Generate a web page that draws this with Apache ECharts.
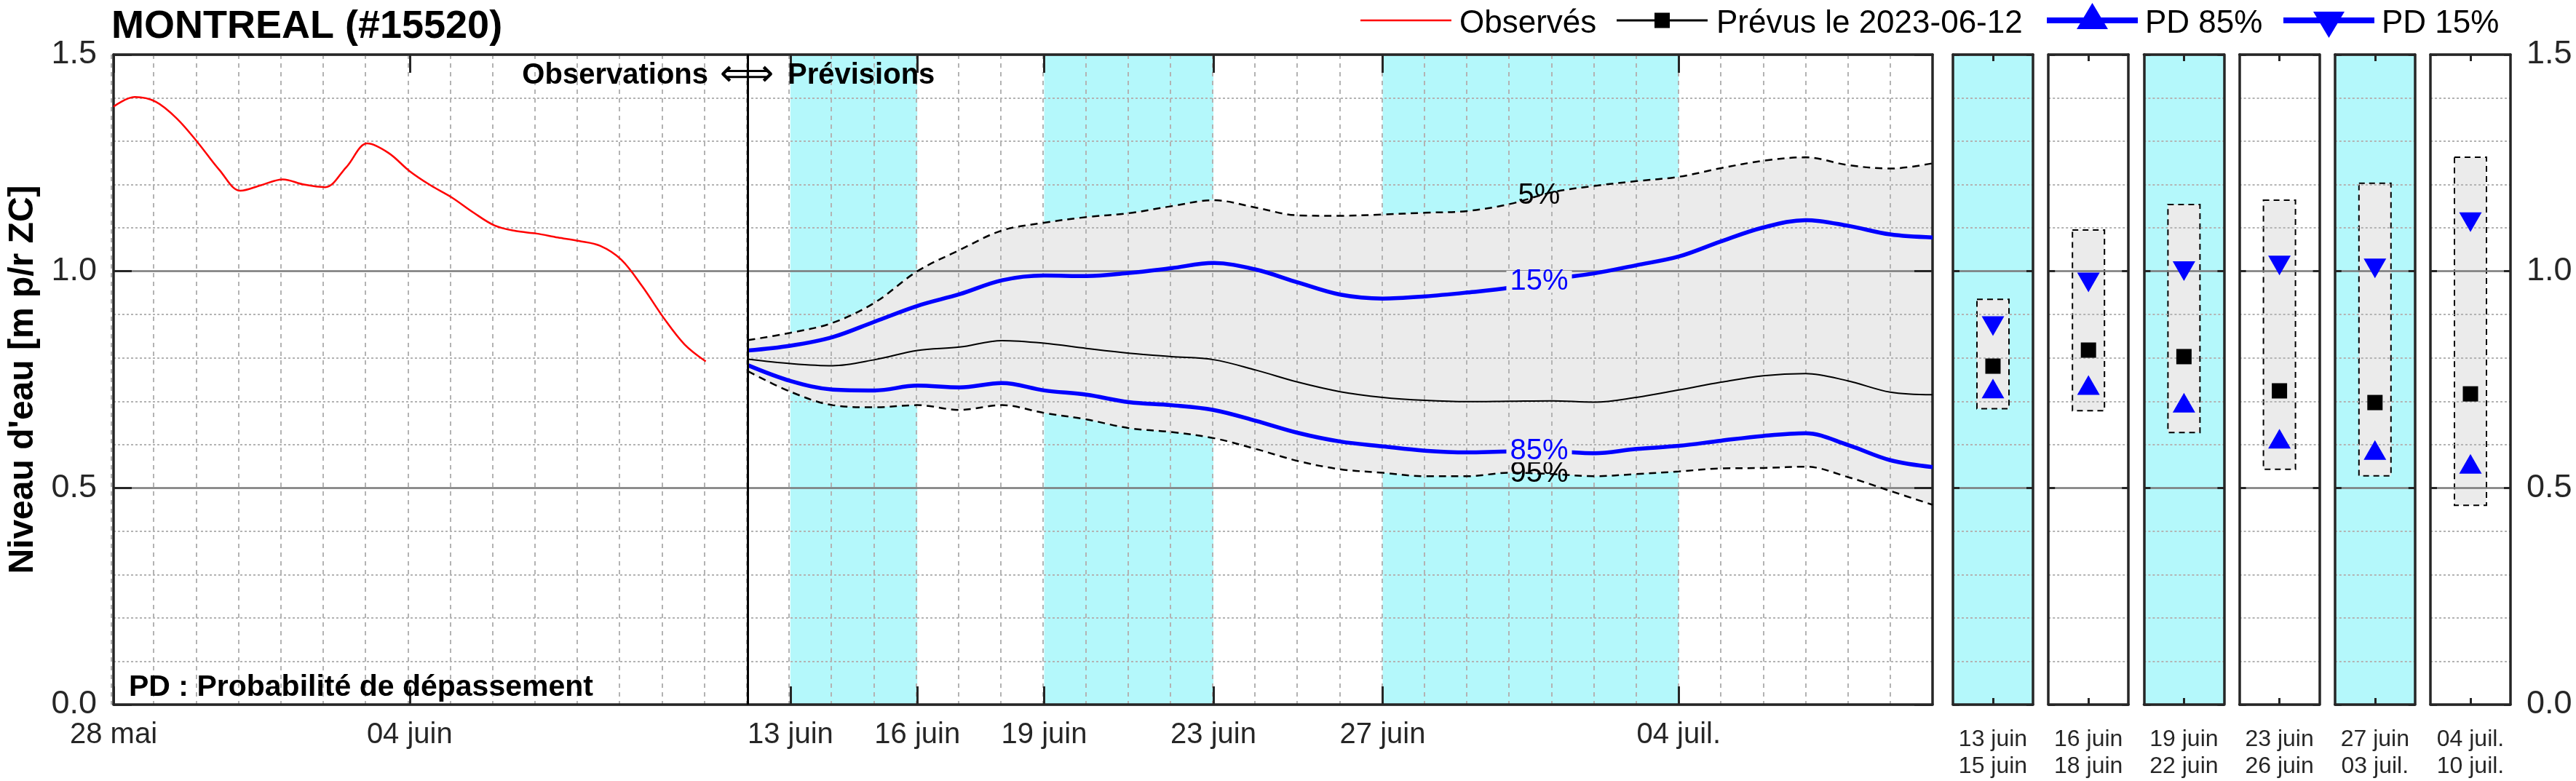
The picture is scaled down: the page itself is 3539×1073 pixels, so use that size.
<!DOCTYPE html>
<html>
<head>
<meta charset="utf-8">
<title>MONTREAL (#15520)</title>
<script src="https://cdn.jsdelivr.net/npm/echarts@6/dist/echarts.min.js"></script>
<style>
  html, body { margin: 0; padding: 0; background: #fff; }
  #chart { width: 3539px; height: 1073px; }
</style>
</head>
<body>
<div id="chart"></div>
<script>
// jours comptés depuis le 28 mai 2023
const tickDays = [0, 7, 16, 19, 22, 26, 30, 37];
const tickLabels = ['28 mai', '04 juin', '13 juin', '16 juin', '19 juin', '23 juin', '27 juin', '04 juil.'];
const cyanStart = [16, 22, 30];
const cyanEnd = [19, 26, 37];
const forecastStart = 15; // 12 juin
const lastDay = 43;

// niveaux observés
const obsDay = [0, 0.5, 1, 1.5, 2, 2.5, 3, 3.5, 4, 4.5, 5, 5.5, 6, 6.5, 7, 7.5, 8, 8.5, 9, 9.5, 10, 10.5, 11, 11.5, 12, 12.5, 13, 13.5, 14];
const obsLevel = [1.380, 1.402, 1.391, 1.352, 1.296, 1.234, 1.186, 1.199, 1.212, 1.200, 1.194, 1.240, 1.295, 1.273, 1.231, 1.198, 1.170, 1.136, 1.106, 1.093, 1.087, 1.078, 1.070, 1.059, 1.027, 0.965, 0.893, 0.831, 0.792];

// prévisions (probabilités de dépassement)
const fcDay = [15, 16, 17, 18, 19, 20, 21, 22, 23, 24, 25, 26, 27, 28, 29, 30, 31, 32, 33, 34, 35, 36, 37, 38, 39, 40, 41, 42, 43];
const fcP5 = [0.841, 0.858, 0.881, 0.928, 1.000, 1.049, 1.094, 1.112, 1.125, 1.134, 1.150, 1.164, 1.147, 1.129, 1.128, 1.131, 1.135, 1.139, 1.155, 1.182, 1.197, 1.208, 1.218, 1.238, 1.255, 1.263, 1.245, 1.237, 1.249];
const fcP15 = [0.817, 0.828, 0.848, 0.884, 0.920, 0.947, 0.979, 0.990, 0.989, 0.996, 1.007, 1.019, 1.004, 0.974, 0.946, 0.937, 0.942, 0.951, 0.962, 0.982, 0.995, 1.014, 1.034, 1.069, 1.101, 1.118, 1.105, 1.085, 1.078];
const fcMed = [0.797, 0.787, 0.782, 0.796, 0.817, 0.825, 0.840, 0.834, 0.822, 0.811, 0.803, 0.796, 0.772, 0.744, 0.722, 0.709, 0.702, 0.699, 0.700, 0.701, 0.698, 0.709, 0.726, 0.744, 0.759, 0.764, 0.747, 0.721, 0.715];
const fcP85 = [0.783, 0.747, 0.727, 0.725, 0.736, 0.732, 0.742, 0.725, 0.715, 0.698, 0.691, 0.680, 0.655, 0.627, 0.607, 0.596, 0.586, 0.582, 0.584, 0.584, 0.580, 0.590, 0.597, 0.609, 0.620, 0.626, 0.599, 0.564, 0.548];
const fcP95 = [0.769, 0.722, 0.691, 0.686, 0.691, 0.680, 0.691, 0.673, 0.658, 0.638, 0.629, 0.615, 0.590, 0.562, 0.543, 0.535, 0.527, 0.527, 0.535, 0.532, 0.527, 0.532, 0.538, 0.545, 0.546, 0.549, 0.525, 0.493, 0.461];

// résumés par période
const weekStart = ['13 juin', '16 juin', '19 juin', '23 juin', '27 juin', '04 juil.'];
const weekEnd = ['15 juin', '18 juin', '22 juin', '26 juin', '03 juil.', '10 juil.'];
const weekShaded = [true, false, true, false, true, false];
const weekP5 = [0.935, 1.095, 1.154, 1.164, 1.203, 1.263];
const weekP15 = [0.881, 0.982, 1.008, 1.021, 1.014, 1.121];
const weekMed = [0.781, 0.818, 0.803, 0.724, 0.697, 0.717];
const weekP85 = [0.722, 0.730, 0.689, 0.606, 0.580, 0.548];
const weekP95 = [0.683, 0.678, 0.628, 0.543, 0.528, 0.460];

const FONT = "'Liberation Sans', Arial, Helvetica, sans-serif";
const CYAN = '#b4f8fb';
const BAND = '#ebebeb';
const BLUE = '#0000ff';
const AXIS = '#262626';
const labelDay = 33.7;

const pairs = (xs, ys) => xs.map((x, k) => [x, ys[k]]);
function valAt(arr, d) {
  const k = Math.floor(d - fcDay[0]);
  const t = d - fcDay[k];
  return arr[k] + (arr[k + 1] - arr[k]) * t;
}
// axe par catégories (un jour = une catégorie) pour pouvoir empiler la bande grise
const dayCats = [];
for (let d = 0; d <= lastDay; d++) dayCats.push(String(d));
const onDays = arr => dayCats.map((c, d) => {
  const k = fcDay.indexOf(d);
  return k < 0 ? '-' : arr[k];
});

const border = { show: true, onZero: false, lineStyle: { color: AXIS, width: 3.5 } };
const majorGrid = { show: true, lineStyle: { color: '#7a7a7a', width: 2.5 } };
const minorGrid = { show: true, lineStyle: { color: '#b3b3b3', width: 2, type: [3, 3] } };

const chart = echarts.init(document.getElementById('chart'));

const grid = [
  { left: 153, top: 75, width: 2502, height: 893 },
  { left: 153, top: 75, width: 2502, height: 893 } // bande grise + lignes journalières
];
const xAxis = [
  {
    gridIndex: 0, type: 'value', min: 0, max: lastDay, position: 'bottom', z: 2,
    axisLine: border,
    axisTick: { inside: true, length: 25, customValues: tickDays, lineStyle: { color: AXIS, width: 3 } },
    axisLabel: {
      customValues: tickDays, formatter: v => tickLabels[tickDays.indexOf(v)],
      fontFamily: FONT, fontSize: 40, color: AXIS, margin: 22
    },
    splitLine: { show: false }
  },
  {
    gridIndex: 0, type: 'value', min: 0, max: lastDay, position: 'top', z: 2,
    axisLine: border,
    axisTick: { inside: true, length: 25, customValues: tickDays, lineStyle: { color: AXIS, width: 3 } },
    axisLabel: { show: false },
    splitLine: { show: false }
  },
  {
    gridIndex: 1, type: 'category', data: dayCats, boundaryGap: false, z: 2,
    axisLine: { show: false }, axisTick: { show: false }, axisLabel: { show: false },
    splitLine: { show: true, interval: 0, lineStyle: { color: '#b3b3b3', width: 2, type: [6, 6] } }
  }
];
const yAxis = [
  {
    gridIndex: 0, type: 'value', min: 0, max: 1.5, interval: 0.5, position: 'left', z: 2,
    name: "Niveau d'eau [m p/r ZC]", nameLocation: 'middle', nameGap: 100, nameRotate: 90,
    nameTextStyle: { fontFamily: FONT, fontSize: 48, fontWeight: 'bold', color: '#000' },
    axisLine: border,
    axisTick: { inside: true, length: 25, lineStyle: { color: AXIS, width: 3 } },
    axisLabel: { fontFamily: FONT, fontSize: 45, color: AXIS, margin: 23, formatter: v => v.toFixed(1) },
    splitLine: majorGrid,
    minorTick: { show: false, splitNumber: 5 },
    minorSplitLine: minorGrid
  },
  {
    gridIndex: 0, type: 'value', min: 0, max: 1.5, interval: 0.5, position: 'right', z: 2,
    axisLine: border,
    axisTick: { inside: true, length: 25, lineStyle: { color: AXIS, width: 3 } },
    axisLabel: { show: false },
    splitLine: { show: false }
  },
  { gridIndex: 1, type: 'value', min: 0, max: 1.5, show: false }
];

const lineBase = { type: 'line', xAxisIndex: 0, yAxisIndex: 0, symbol: 'none', smooth: 0.35, z: 4, silent: true };
const dashed = { color: '#000', width: 2.5, type: [10, 7] };
const curveLabel = (text, arr, color, bg) => ({
  symbol: 'circle', symbolSize: 1, silent: true,
  itemStyle: { color: 'rgba(0,0,0,0)' },
  label: {
    show: true, position: 'inside', formatter: text, color: color,
    fontFamily: FONT, fontSize: 40, lineHeight: 30,
    backgroundColor: bg || 'transparent', padding: [0, 5]
  },
  data: [{ coord: [labelDay, valAt(arr, labelDay)] }]
});

const series = [
  {
    ...lineBase, name: 'Observés', data: pairs(obsDay, obsLevel),
    lineStyle: { color: '#ff0000', width: 2.5 },
    markArea: {
      silent: true, z: 1, itemStyle: { color: CYAN },
      data: cyanStart.map((s, k) => [{ xAxis: s }, { xAxis: cyanEnd[k] }])
    },
    markLine: {
      silent: true, symbol: ['none', 'none'], label: { show: false },
      lineStyle: { color: '#000', width: 3, type: 'solid' },
      data: [{ xAxis: forecastStart }]
    }
  },
  {
    ...lineBase, xAxisIndex: 2, yAxisIndex: 2, name: 'bande-base', stack: 'bande', z: 1,
    data: onDays(fcP95), lineStyle: { opacity: 0 }
  },
  {
    ...lineBase, xAxisIndex: 2, yAxisIndex: 2, name: 'bande', stack: 'bande', z: 1,
    data: onDays(fcP5.map((v, k) => v - fcP95[k])),
    lineStyle: { opacity: 0 }, areaStyle: { color: BAND, opacity: 1 }
  },
  { ...lineBase, name: 'PD 5%', data: pairs(fcDay, fcP5), lineStyle: dashed, markPoint: curveLabel('5%', fcP5, '#000') },
  { ...lineBase, name: 'PD 95%', data: pairs(fcDay, fcP95), lineStyle: dashed, markPoint: curveLabel('95%', fcP95, '#000') },
  { ...lineBase, name: 'Prévus le 2023-06-12', data: pairs(fcDay, fcMed), lineStyle: { color: '#000', width: 2 } },
  { ...lineBase, name: 'PD 85%', data: pairs(fcDay, fcP85), lineStyle: { color: BLUE, width: 5.5 }, markPoint: curveLabel('85%', fcP85, BLUE, BAND) },
  { ...lineBase, name: 'PD 15%', data: pairs(fcDay, fcP15), lineStyle: { color: BLUE, width: 5.5 }, markPoint: curveLabel('15%', fcP15, BLUE, BAND) }
];

// petits panneaux par période
weekStart.forEach((label, i) => {
  const g = grid.length;
  const last = i === weekStart.length - 1;
  grid.push({
    left: 2683 + i * 131.2, top: 75, width: 110, height: 893,
    show: weekShaded[i], backgroundColor: CYAN, borderWidth: 0
  });
  const xi = xAxis.length, yi = yAxis.length;
  const tick = { inside: true, length: 9, lineStyle: { color: AXIS, width: 3 } };
  xAxis.push(
    {
      gridIndex: g, type: 'value', min: 0, max: 1, position: 'bottom', z: 2,
      axisLine: border, axisTick: { ...tick, customValues: [0.5] },
      axisLabel: {
        customValues: [0.5], formatter: () => label + '\n' + weekEnd[i],
        fontFamily: FONT, fontSize: 32, lineHeight: 37, color: AXIS, margin: 30
      },
      splitLine: { show: false }
    },
    {
      gridIndex: g, type: 'value', min: 0, max: 1, position: 'top', z: 2,
      axisLine: border, axisTick: { ...tick, customValues: [0.5] },
      axisLabel: { show: false }, splitLine: { show: false }
    }
  );
  yAxis.push(
    {
      gridIndex: g, type: 'value', min: 0, max: 1.5, interval: 0.5, position: 'left', z: 2,
      axisLine: border, axisTick: tick, axisLabel: { show: false },
      splitLine: majorGrid, minorTick: { show: false, splitNumber: 5 }, minorSplitLine: minorGrid
    },
    {
      gridIndex: g, type: 'value', min: 0, max: 1.5, interval: 0.5, position: 'right', z: 2,
      axisLine: border, axisTick: tick,
      axisLabel: { show: last, fontFamily: FONT, fontSize: 45, color: AXIS, margin: 22, formatter: v => v.toFixed(1) },
      splitLine: { show: false }
    }
  );
  const onPanel = { xAxisIndex: xi, yAxisIndex: yi, silent: true };
  series.push(
    {
      ...onPanel, type: 'custom', z: 1,
      data: [[0.5, weekP95[i], weekP5[i]]],
      encode: { x: 0, y: [1, 2] },
      renderItem: (params, api) => {
        const lo = api.coord([api.value(0), api.value(1)]);
        const hi = api.coord([api.value(0), api.value(2)]);
        return {
          type: 'rect',
          shape: { x: lo[0] - 22, y: hi[1], width: 44, height: lo[1] - hi[1] },
          style: { fill: BAND, stroke: '#000', lineWidth: 2, lineDash: [8, 6] }
        };
      }
    },
    { ...onPanel, type: 'scatter', z: 5, symbol: 'rect', symbolSize: 21, itemStyle: { color: '#000', opacity: 1 }, data: [[0.5, weekMed[i]]] },
    // triangles centrés sur leur centre de gravité, comme dans l'original
    { ...onPanel, type: 'scatter', z: 5, symbol: 'triangle', symbolSize: [31, 27], symbolOffset: [0, -4.5], itemStyle: { color: BLUE, opacity: 1 }, data: [[0.5, weekP85[i]]] },
    { ...onPanel, type: 'scatter', z: 5, symbol: 'triangle', symbolRotate: 180, symbolSize: [31, 27], symbolOffset: [0, 4.5], itemStyle: { color: BLUE, opacity: 1 }, data: [[0.5, weekP15[i]]] }
  );
});

const txt = (text, x, y, font, align, fill) => ({
  type: 'text', x: x, y: y, z: 10, silent: true,
  style: { text: text, font: font, fill: fill || '#000', align: align || 'left', verticalAlign: 'middle' }
});
const seg = (x1, x2, y, color, w) => ({
  type: 'line', z: 10, silent: true, shape: { x1: x1, y1: y, x2: x2, y2: y }, style: { stroke: color, lineWidth: w }
});
const LY = 28;   // axe des symboles de la légende
const LT = 33;   // texte de la légende
const graphic = [
  txt('MONTREAL (#15520)', 153, 37, 'bold 54px ' + FONT),
  txt('Observations', 973, 104, 'bold 40px ' + FONT, 'right'),
  txt('\u27FA', 1026, 104, "52px 'DejaVu Sans'", 'center'),
  txt('Prévisions', 1082, 104, 'bold 40px ' + FONT),
  txt('PD : Probabilité de dépassement', 177, 945, 'bold 41px ' + FONT),
  // légende
  seg(1869, 1994, LY, '#ff0000', 2.5),
  txt('Observés', 2005, LT, '44px ' + FONT),
  seg(2221, 2346, LY, '#000', 3),
  { type: 'rect', z: 11, silent: true, shape: { x: 2273, y: LY - 10.5, width: 21, height: 21 }, style: { fill: '#000' } },
  txt('Prévus le 2023-06-12', 2358, LT, '44px ' + FONT),
  seg(2812, 2937, LY, BLUE, 8),
  { type: 'polygon', z: 11, silent: true, shape: { points: [[2853, LY + 12], [2896, LY + 12], [2874.5, LY - 24]] }, style: { fill: BLUE } },
  txt('PD 85%', 2947, LT, '44px ' + FONT),
  seg(3137, 3262, LY, BLUE, 8),
  { type: 'polygon', z: 11, silent: true, shape: { points: [[3178, LY - 12], [3221, LY - 12], [3199.5, LY + 24]] }, style: { fill: BLUE } },
  txt('PD 15%', 3272, LT, '44px ' + FONT)
];

chart.setOption({
  animation: false,
  backgroundColor: '#fff',
  textStyle: { fontFamily: FONT },
  grid: grid,
  xAxis: xAxis,
  yAxis: yAxis,
  series: series,
  graphic: graphic
});
</script>
</body>
</html>
